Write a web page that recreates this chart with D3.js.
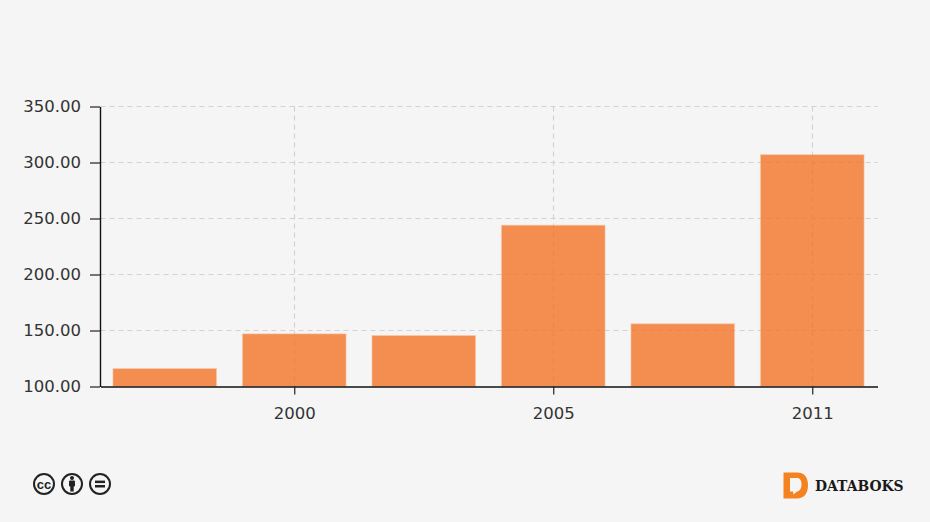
<!DOCTYPE html>
<html><head><meta charset="utf-8">
<script src="https://cdnjs.cloudflare.com/ajax/libs/d3/7.8.5/d3.min.js"></script>
<style>html,body{margin:0;padding:0;background:#f5f5f5}svg{display:block}</style>
</head><body><svg id="c" width="930" height="522"></svg>
<script>
const categories = ["1998","2000","2003","2005","2008","2011"];
const labelledYears = ["2000","2005","2011"];
const values = [116, 147, 145.5, 244, 156, 307];
const yTicks = [100,150,200,250,300,350];

const svg = d3.select("#c");
const m = {l:100.5, r:877.5, t:106.5, b:386.5};
const x = d3.scaleBand().domain(categories).range([m.l,m.r]).paddingInner(0.2).paddingOuter(0.1);
const y = d3.scaleLinear().domain([100,350]).range([m.b,m.t]);
const font = "'DejaVu Sans',Verdana,sans-serif";

// grid
const grid = svg.append("g").attr("stroke","#d2d2d2").attr("stroke-dasharray","5 4").attr("stroke-width",1.2);
grid.selectAll(".h").data(yTicks.slice(1)).join("line")
  .attr("x1",m.l).attr("x2",m.r).attr("y1",d=>Math.round(y(d)-.5)+.5).attr("y2",d=>Math.round(y(d)-.5)+.5);
grid.selectAll(".v").data(labelledYears).join("line")
  .attr("x1",d=>Math.round(x(d)+x.bandwidth()/2)-.5).attr("x2",d=>Math.round(x(d)+x.bandwidth()/2)-.5)
  .attr("y1",m.t).attr("y2",m.b);

// bars
svg.append("g").selectAll("rect").data(categories).join("rect")
  .attr("x",d=>x(d)-.5).attr("width",x.bandwidth())
  .attr("y",(d,i)=>y(values[i])).attr("height",(d,i)=>m.b-y(values[i]))
  .attr("fill","#f26f21").attr("fill-opacity",0.78)
  .attr("stroke","#f9c9a8").attr("stroke-opacity",0.6).attr("stroke-width",1);

// axes
const ya = svg.append("g").attr("transform",`translate(${m.l-0.5},0)`)
  .call(d3.axisLeft(y).tickValues(yTicks).tickFormat(d3.format(".2f")).tickSize(10).tickSizeOuter(0));
const xa = svg.append("g").attr("transform",`translate(0,${m.b})`)
  .call(d3.axisBottom(x).tickValues(labelledYears).tickSize(8).tickSizeOuter(0));
[ya,xa].forEach(a=>{
  a.selectAll("path.domain").attr("stroke","#111").attr("stroke-width",1.4);
  a.selectAll(".tick line").attr("stroke","#222").attr("stroke-width",1.2);
  a.selectAll("text").attr("font-family",font).attr("font-size",16.5).attr("fill","#333");
});
ya.selectAll("text").attr("x",-19);
xa.selectAll("text").attr("y",21);

// Creative Commons icons
const cc = svg.append("g").attr("fill","none").attr("stroke","#222").attr("stroke-width",2);
const iconX = [44,72,100];
iconX.forEach(cx=>cc.append("circle").attr("cx",cx).attr("cy",484).attr("r",10));
svg.append("text").attr("x",44).attr("y",488.5).attr("text-anchor","middle")
  .attr("font-family","'Liberation Sans',Arial,sans-serif").attr("font-weight",700).attr("font-size",13).attr("fill","#222").text("cc");
const person = svg.append("g").attr("fill","#222");
person.append("circle").attr("cx",72).attr("cy",478).attr("r",2);
person.append("rect").attr("x",69).attr("y",480.5).attr("width",6).attr("height",6).attr("rx",1);
person.append("rect").attr("x",70.3).attr("y",485).attr("width",3.4).attr("height",6.5);
const eq = svg.append("g").attr("fill","#222");
eq.append("rect").attr("x",95).attr("y",480.6).attr("width",10).attr("height",2.5);
eq.append("rect").attr("x",95).attr("y",485).attr("width",10).attr("height",2.5);

// Databoks logo
svg.append("path").attr("fill","#f58220").attr("fill-rule","evenodd")
  .attr("d","M783.5,472.5 H797 C804,472.5 808,477 808,485 C808,493.5 804,498.5 797,498.5 H783.5 Z M790,478 V491.5 H793 L793.5,494.5 L797,491.5 C800,491 801.5,488 801.5,484.5 C801.5,480.5 800,478 797,478 Z");
svg.append("text").attr("x",815).attr("y",491).attr("font-family","'DejaVu Serif','Liberation Serif',serif")
  .attr("font-weight",700).attr("font-size",13.9).attr("fill","#1a1a1a").text("DATABOKS");
</script></body></html>
